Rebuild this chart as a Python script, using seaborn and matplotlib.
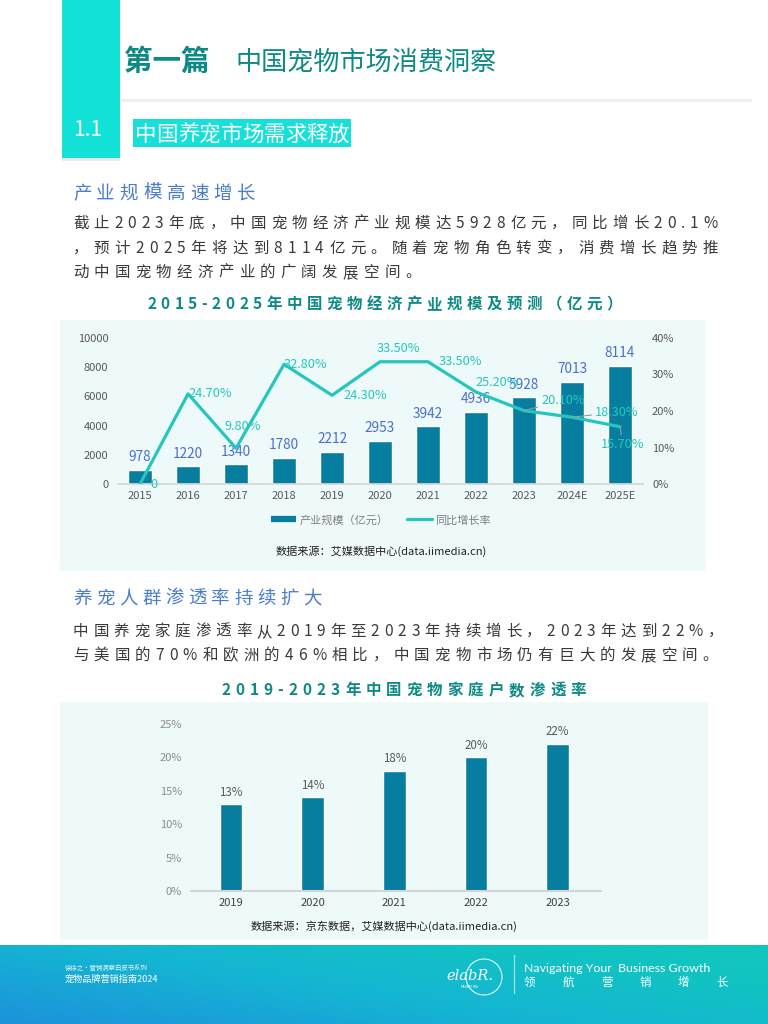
import matplotlib
matplotlib.use("Agg")
import matplotlib.pyplot as plt
import numpy as np
import seaborn as sns
from matplotlib import font_manager
from matplotlib.font_manager import FontProperties
from matplotlib.lines import Line2D
from matplotlib.patches import Rectangle, Circle
from matplotlib.colors import LinearSegmentedColormap

# ---- data -------------------------------------------------------------
years = ["2015", "2016", "2017", "2018", "2019", "2020",
         "2021", "2022", "2023", "2024E", "2025E"]
scale = [978, 1220, 1340, 1780, 2212, 2953, 3942, 4936, 5928, 7013, 8114]
growth = [0, 24.7, 9.8, 32.8, 24.3, 33.5, 33.5, 25.2, 20.1, 18.3, 15.7]
scale_ticks = [0, 2000, 4000, 6000, 8000, 10000]
growth_ticks = [0, 10, 20, 30, 40]

pen_years = ["2019", "2020", "2021", "2022", "2023"]
pen_rate = [13, 14, 18, 20, 22]
pen_ticks = [0, 5, 10, 15, 20, 25]

# label offsets for the growth line (pixels, style only)
growth_offsets = [(10, 0, "left"), (0, 0, "left"), (7, 22, "center"), (0, 0, "left"),
                  (11, 0, "left"), (18, 13, "center"), (11, 0, "left"), (-1, 10, "left"),
                  (17, 10, "left"), (23, 5, "left"), (3, -18, "center")]
leader = [False] * 8 + [True] * 3

# ---- style ------------------------------------------------------------
sns.set_theme(style="white")
FONT = "Noto Sans CJK SC"
plt.rcParams["font.family"] = [FONT, "DejaVu Sans"]

TURQ = "#13E2D9"
TEAL = "#0E8A84"
BLUE_HEAD = "#4A7DCD"
BODY = "#3A3A3A"
BAR = "#077E9F"
LINE = "#26C6BE"
BAR_LBL = "#4A6FCF"
CHART_BG = "#EEF9F9"

W, H = 768, 1024
fig = plt.figure(figsize=(W / 100, H / 100), dpi=100)
bg = fig.add_axes([0, 0, 1, 1], zorder=0)
bg.set_xlim(0, W)
bg.set_ylim(H, 0)
bg.axis("off")


def advances(s, size_px, weight="normal"):
    try:
        prop = FontProperties(family=FONT, weight=weight)
        font = font_manager.get_font(font_manager.findfont(prop))
        font.set_size(size_px, 72)
        return [font.load_char(ord(c)).linearHoriAdvance / 65536 for c in s]
    except Exception:
        return [size_px if ord(c) > 0x2E80 else size_px * 0.55 for c in s]


def spaced(x, y, s, size, color, width=None, gap=0.0, weight="normal", ha="left", z=2):
    """Draw text char by char (y = visual centre in px) with letter spacing."""
    adv = advances(s, size, weight)
    if width is not None:
        gap = (width - sum(adv)) / (len(s) - 1)
    total = sum(adv) + gap * (len(s) - 1)
    if ha == "center":
        x -= total / 2
    base = y + 0.38 * size
    for ch, a in zip(s, adv):
        bg.text(x, base, ch, fontsize=size * 0.72, color=color, weight=weight,
                ha="left", va="baseline", zorder=z)
        x += a + gap
    return gap


# ---- header -----------------------------------------------------------
bg.add_patch(Rectangle((62, 158), 58, 3, color="#000000", alpha=0.08, lw=0))
bg.add_patch(Rectangle((62, 0), 58, 158, color=TURQ, lw=0))
bg.add_patch(Rectangle((120, 99), 632, 3, color="#EFEFEF", lw=0))
bg.text(124, 62, "第一篇", fontsize=20.5, weight="heavy", color=TEAL, va="center")
bg.text(236, 62, "中国宠物市场消费洞察", fontsize=18.8, color=TEAL, va="center")
bg.text(88, 130, "1.1", fontsize=15, color="white", va="center", ha="center")
bg.add_patch(Rectangle((133, 119), 218, 28, color="#17E0D8", lw=0))
spaced(135, 133, "中国养宠市场需求释放", 21.5, "white", width=214)

# ---- section 1 text ---------------------------------------------------
spaced(73, 192, "产业规模高速增长", 18.5, BLUE_HEAD, width=182)
g = spaced(73, 222, "截止2023年底，中国宠物经济产业规模达5928亿元，同比增长20.1%", 15.5, BODY, width=645)
g = spaced(73, 247, "，预计2025年将达到8114亿元。随着宠物角色转变，消费增长趋势推", 15.5, BODY, width=645)
spaced(73, 271, "动中国宠物经济产业的广阔发展空间。", 15.5, BODY, gap=g)
spaced(147, 303, "2015-2025年中国宠物经济产业规模及预测（亿元）", 15.5, TEAL,
       width=475, weight="bold")
bg.add_patch(Rectangle((60, 320), 646, 251, color=CHART_BG, lw=0))

# ---- chart 1 ----------------------------------------------------------
ax = fig.add_axes([118 / W, 1 - 484 / H, 525 / W, 146 / H], zorder=2)
ax.patch.set_alpha(0)
sns.barplot(x=years, y=scale, color=BAR, saturation=1, width=0.5, ax=ax)
ax.set_xlim(-0.46, 10.48)
ax.set_ylim(0, 10000)
ax.set_yticks(scale_ticks)
ax.set_yticklabels([str(v) for v in scale_ticks])
ax.set_xlabel("")
ax.set_ylabel("")
for sp in ["top", "right", "left"]:
    ax.spines[sp].set_visible(False)
ax.spines["bottom"].set_color("#D5D5D5")
ax.spines["bottom"].set_linewidth(1.2)
ax.tick_params(axis="y", length=0, labelsize=8, labelcolor="#595959", pad=7)
ax.tick_params(axis="x", length=0, labelsize=8, labelcolor="#595959", pad=5)
ax.bar_label(ax.containers[0], labels=[str(v) for v in scale], padding=4,
             fontsize=9.8, color=BAR_LBL, weight="medium")

ax2 = ax.twinx()
ax2.patch.set_alpha(0)
xs = np.arange(len(years))
sns.lineplot(x=xs, y=growth, ax=ax2, color=LINE, lw=2.3)
ax2.set_ylim(0, 40)
ax2.set_yticks(growth_ticks)
ax2.set_yticklabels([f"{v}%" for v in growth_ticks])
ax2.set_ylabel("")
for sp in ax2.spines.values():
    sp.set_visible(False)
ax2.tick_params(axis="y", length=0, labelsize=8, labelcolor="#595959", pad=6.5)
for i, v in enumerate(growth):
    dx, dy, ha = growth_offsets[i]
    txt = "0" if v == 0 else f"{v:.2f}%"
    kw = {}
    if leader[i]:
        kw["arrowprops"] = dict(arrowstyle="-", color="#9A9A9A", lw=0.8,
                                shrinkA=0, shrinkB=0)
    ax2.annotate(txt, (xs[i], v), xytext=(dx, dy), textcoords="offset pixels",
                 ha=ha, va="center", fontsize=9.2, color=LINE, **kw)

handles = [Line2D([], [], color=BAR, lw=4.5, solid_capstyle="butt"),
           Line2D([], [], color=LINE, lw=2.3)]
fig.legend(handles, ["产业规模（亿元）", "同比增长率"], loc="center",
           bbox_to_anchor=(381 / W, 1 - 520 / H), ncol=2, frameon=False,
           fontsize=8, labelcolor="#7F7F7F", handlelength=2.2,
           handletextpad=0.3, columnspacing=1.7)
bg.text(381, 551, "数据来源：艾媒数据中心(data.iimedia.cn)", fontsize=8,
        color="#222222", ha="center", va="center")

# ---- section 2 text ---------------------------------------------------
spaced(73, 597, "养宠人群渗透率持续扩大", 18.5, BLUE_HEAD, width=249)
spaced(73, 630, "中国养宠家庭渗透率从2019年至2023年持续增长，2023年达到22%，", 15.5, BODY, width=650)
spaced(73, 654, "与美国的70%和欧洲的46%相比，中国宠物市场仍有巨大的发展空间。", 15.5, BODY, width=645)
spaced(221, 689, "2019-2023年中国宠物家庭户数渗透率", 15.5, TEAL, width=365, weight="bold")
bg.add_patch(Rectangle((60, 702), 648, 238, color=CHART_BG, lw=0))

# ---- chart 2 ----------------------------------------------------------
bx = fig.add_axes([191 / W, 1 - 891 / H, 410 / W, 167 / H], zorder=2)
bx.patch.set_alpha(0)
sns.barplot(x=pen_years, y=pen_rate, color=BAR, saturation=1, width=0.28, ax=bx)
bx.set_xlim(-0.49, 4.53)
bx.set_ylim(0, 25)
bx.set_yticks(pen_ticks)
bx.set_yticklabels([f"{v}%" for v in pen_ticks])
bx.set_xlabel("")
bx.set_ylabel("")
for sp in ["top", "right", "left"]:
    bx.spines[sp].set_visible(False)
bx.spines["bottom"].set_color("#D5D5D5")
bx.spines["bottom"].set_linewidth(1.5)
bx.tick_params(axis="y", length=0, labelsize=8, labelcolor="#8C8C8C", pad=6.5)
bx.tick_params(axis="x", length=0, labelsize=8, labelcolor="#404040", pad=5)
bx.bar_label(bx.containers[0], labels=[f"{v}%" for v in pen_rate], padding=4,
             fontsize=8.3, color="#595959")
bg.text(384, 926, "数据来源：京东数据，艾媒数据中心(data.iimedia.cn)", fontsize=8,
        color="#222222", ha="center", va="center")

# ---- footer -----------------------------------------------------------
cmap = LinearSegmentedColormap.from_list("foot", ["#1C93DB", "#15B5D3", "#10C6BF"])
gx, gy = np.meshgrid(np.linspace(0, 1, 200), np.linspace(0, 1, 40))
grad = np.clip(0.7 * gx + 0.45 * (1 - gy), 0, 1)
bg.imshow(grad, cmap=cmap, extent=(0, W, 1024, 945), origin="upper",
          aspect="auto", zorder=1)
bg.set_xlim(0, W)
bg.set_ylim(H, 0)
bg.text(65, 968, "徐徐之·营销洞察白皮书系列", fontsize=4.6, color="white", alpha=0.9,
        va="center", zorder=3)
bg.text(65, 979, "宠物品牌营销指南2024", fontsize=6.6, color="white", va="center", zorder=3)
bg.add_patch(Circle((484, 977), 18, fill=False, ec="white", lw=0.7, zorder=3))
bg.text(470, 976, "elabR.", fontsize=10.5, family="DejaVu Serif", style="italic",
        color="white", ha="center", va="center", zorder=3)
bg.text(470, 987, "MARKETING", fontsize=2.3, color="white", ha="center",
        va="center", zorder=3)
bg.plot([514, 514], [955, 993], color="white", alpha=0.6, lw=0.9, zorder=3)
bg.text(524, 968, "Navigating Your  Business Growth", fontsize=8.9, family="Lato",
        color="white", va="center", zorder=3)
spaced(524, 982, "领航营销增长", 11.5, "white", width=204, z=3)

fig.savefig("out.png", dpi=100)
